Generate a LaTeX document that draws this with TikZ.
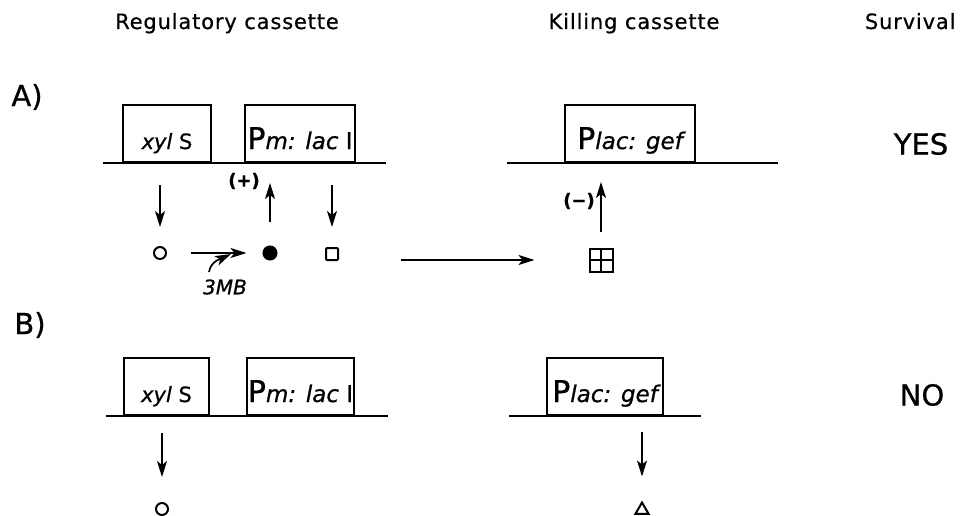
\documentclass[tikz,border=0pt]{standalone}
\usepackage{fontspec}
\setmainfont{DejaVu Sans}[FakeBold=0.8]
\newfontfamily\headfont{DejaVu Sans}[LetterSpace=4, FakeBold=0.6]
\usetikzlibrary{arrows.meta,shapes.geometric}

\newcommand{\fs}[1]{\fontsize{#1}{#1}\selectfont}
\newcommand{\promo}[1]{{\fs{30}P}{\fs{23}\itshape #1}}
\newcommand{\xyls}{{\fs{21}\textit{xyl} S}}

\tikzset{
    gene/.style={draw, line width=2pt, anchor=south, inner sep=0pt, text height=44pt, text depth=13pt},
    dna/.style={line width=2pt},
    arr/.style={-{Stealth[length=16pt,width=10pt,inset=4pt]}, line width=1.7pt},
    sym/.style={draw, line width=2pt, inner sep=0pt},
    head/.style={font=\headfont\fs{21}, anchor=base},
    big/.style={font=\fs{29}},
}

\begin{document}
\begin{tikzpicture}[x=1pt, y=-1pt]
    \useasboundingbox (0,0) rectangle (960,516);

    \node[head] (hreg) at (227,29) {Regulatory cassette};
    \node[head] (hkill) at (634,29) {Killing cassette};
    \node[head, anchor=base east] (hsurv) at (959,29) {Survival};

    \node[big] (labA) at (27,97) {A)};
    \node[big] (labB) at (30,325) {B)};

    % A
    \draw[dna] (103,163) -- (386,163);
    \draw[dna] (507,163) -- (778,163);
    \node[gene, minimum width=88pt] (xylA) at (167,163) {\xyls};
    \node[gene, minimum width=110pt] (pmA) at (300,163) {\promo{m: lac \textup{I}}};
    \node[gene, minimum width=130pt] (gefA) at (630,163) {\promo{lac: gef}};
    \node[big] (yes) at (921,144) {YES};

    \node[sym, circle, minimum size=12pt] (oA) at (160,253) {};
    \node[sym, circle, fill, minimum size=13pt] (fA) at (270,253) {};
    \node[sym, rounded corners=1pt, minimum size=12pt] (sA) at (332,254) {};
    \node[sym, minimum size=23pt] (pA) at (601,260) {};
    \draw[line width=2pt] (pA.north) -- (pA.south) (pA.west) -- (pA.east);

    \draw[arr, shorten <=22pt, shorten >=19pt] (oA |- xylA.south) -- (oA.north);
    \draw[arr, shorten <=24pt, shorten >=20pt] (fA.north) -- (fA |- pmA.south);
    \draw[arr, shorten <=22pt, shorten >=20pt] (sA |- pmA.south) -- (sA.north);
    \node[font=\bfseries\fs{18}] (plus) at (244,181) {(+)};

    \draw[arr, shorten <=24pt, shorten >=16pt] (oA.east) -- (fA.west);
    \node[font=\itshape\fs{20}] (mb) at (225,287) {3MB};
    \coordinate (mbstart) at (209,272);
    \coordinate (hit) at (231,254);
    \draw[arr] (mbstart) to[out=80, in=205] (hit);

    \draw[arr, shorten <=62pt, shorten >=54pt] (sA.east |- pA.west) -- (pA.west);
    \draw[arr, shorten <=16pt, shorten >=19pt] (pA.north) -- (pA |- gefA.south);
    \node[font=\bfseries\fs{18}] (minus) at (579,201) {(−)};

    % B
    \draw[dna] (106,416) -- (388,416);
    \draw[dna] (509,416) -- (701,416);
    \node[gene, minimum width=85pt] (xylB) at (166.5,416) {\xyls};
    \node[gene, minimum width=107pt] (pmB) at (300.5,416) {\promo{m: lac \textup{I}}};
    \node[gene, minimum width=116pt] (gefB) at (605,416) {\promo{lac: gef}};
    \node[big] (no) at (922,395) {NO};

    \node[sym, circle, minimum size=12pt] (oB) at (162,509) {};
    \node[sym, regular polygon, regular polygon sides=3, minimum size=15pt] (tB) at (642,510) {};

    \draw[arr, shorten <=17pt, shorten >=25pt] (oB |- xylB.south) -- (oB.north);
    \draw[arr, shorten <=16pt, shorten >=24pt] (tB |- gefB.south) -- (tB.north);
\end{tikzpicture}
\end{document}
